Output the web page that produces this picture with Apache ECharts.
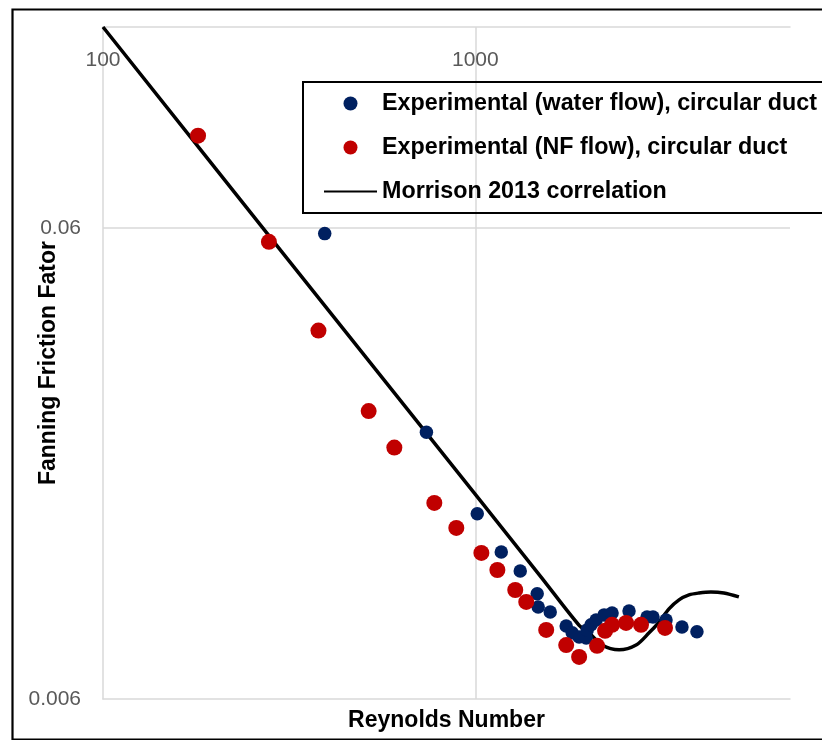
<!DOCTYPE html>
<html>
<head>
<meta charset="utf-8">
<script src="https://cdn.jsdelivr.net/npm/echarts@6/dist/echarts.min.js"></script>
<style>
html,body{margin:0;padding:0;background:#ffffff;}
#c{width:822px;height:740px;}
</style>
</head>
<body>
<div id="c"></div>
<script>
// ---- data ----
const waterName = 'Experimental (water flow), circular duct';
const nfName = 'Experimental (NF flow), circular duct';
const corrName = 'Morrison 2013 correlation';

const waterRe = [394, 739, 1012, 1174, 1320, 1466, 1475, 1589, 1754, 1820, 1900, 1985, 1997, 2046, 2110, 2218, 2329, 2587, 2892, 3000, 3252, 3589, 3937];
const waterF  = [0.0583, 0.0221, 0.01483, 0.01231, 0.01121, 0.01003, 0.00941, 0.00918, 0.00857, 0.00829, 0.00812, 0.00808, 0.00841, 0.00862, 0.00883, 0.00905, 0.00913, 0.00922, 0.00896, 0.00896, 0.00883, 0.00853, 0.00833];

const nfRe = [180, 279, 379, 517, 606, 776, 889, 1038, 1146, 1280, 1370, 1550, 1754, 1900, 2123, 2231, 2329, 2540, 2786, 3232];
const nfF  = [0.0941, 0.0560, 0.0363, 0.0245, 0.0205, 0.01564, 0.01384, 0.01225, 0.01127, 0.01022, 0.00964, 0.00841, 0.00781, 0.00737, 0.00778, 0.00837, 0.00862, 0.00870, 0.00862, 0.00849];

const corrRe = [100, 300, 1000, 1500, 1900, 2021, 2190, 2433, 2702, 2928, 3114, 3312, 3524, 3748, 3986, 4292, 4650, 5103];
const corrF  = [0.160, 0.0537, 0.0163, 0.0109, 0.0086, 0.00829, 0.00781, 0.00763, 0.00781, 0.00829, 0.00874, 0.00932, 0.00974, 0.00998, 0.01007, 0.01012, 0.01007, 0.00988];

const xTickLabels = [100, 1000];
const yTickLabels = [0.006, 0.06];
const xMin = 100, xMax = 7000;
const yMin = 0.006, yMax = 0.16;

// ---- chart ----
const pairs = (xs, ys) => xs.map((x, i) => [x, ys[i]]);
const gridColor = '#D9D9D9';
const labelColor = '#595959';
const font = 'Liberation Sans';

const chart = echarts.init(document.getElementById('c'), null, {renderer: 'canvas'});
chart.setOption({
  animation: false,
  backgroundColor: '#ffffff',
  graphic: [{
    type: 'rect', left: 10, top: 7, silent: true, z: -10,
    shape: {width: 900, height: 730},
    style: {fill: 'none', stroke: '#000000', lineWidth: 2.2}
  }],
  grid: {left: 103, top: 27, right: 32, bottom: 41, containLabel: false, outerBoundsMode: 'none'},
  legend: {
    orient: 'vertical', left: 303, top: 82,
    padding: [10, 20, 10, 20], itemGap: 21,
    itemWidth: 53, itemHeight: 14,
    borderColor: '#000000', borderWidth: 2,
    selectedMode: false,
    textStyle: {fontFamily: font, fontWeight: 'bold', fontSize: 23.3, color: '#000000'},
    data: [
      {name: waterName, icon: 'circle'},
      {name: nfName, icon: 'circle'},
      {name: corrName, itemStyle: {opacity: 0}}
    ]
  },
  xAxis: [{
    type: 'log', min: xMin, max: xMax, position: 'top',
    axisLine: {show: true, lineStyle: {color: gridColor, width: 1.5}},
    axisTick: {show: false},
    axisLabel: {
      inside: true, margin: 23, color: labelColor, fontSize: 21, fontFamily: font,
      formatter: v => xTickLabels.indexOf(Math.round(v)) >= 0 ? String(Math.round(v)) : ''
    },
    splitLine: {show: true, showMinLine: false, showMaxLine: false, lineStyle: {color: gridColor, width: 1.5}}
  }, {
    type: 'log', min: xMin, max: xMax, position: 'bottom',
    axisLine: {show: true, lineStyle: {color: gridColor, width: 1.5}},
    axisTick: {show: false}, axisLabel: {show: false}, splitLine: {show: false},
    name: 'Reynolds Number', nameLocation: 'middle', nameGap: 10, nameMoveOverlap: false,
    nameTextStyle: {fontFamily: font, fontWeight: 'bold', fontSize: 23, color: '#000000'}
  }],
  yAxis: [{
    type: 'log', min: yMin, max: yMax,
    axisLine: {show: true, lineStyle: {color: gridColor, width: 1.5}},
    axisTick: {show: false},
    axisLabel: {
      show: true, margin: 22, color: labelColor, fontSize: 21, fontFamily: font,
      formatter: (v, idx) => idx === 0 ? String(yTickLabels[0]) : ''
    },
    splitLine: {show: false},
    name: 'Fanning Friction Fator', nameLocation: 'middle', nameGap: 43, nameMoveOverlap: false,
    nameTextStyle: {fontFamily: font, fontWeight: 'bold', fontSize: 23, color: '#000000'}
  }],
  series: [{
    name: corrName, type: 'line', xAxisIndex: 0, yAxisIndex: 0,
    data: pairs(corrRe, corrF), symbol: 'none', smooth: 0.3,
    lineStyle: {color: '#000000', width: 3.5}, itemStyle: {color: '#000000'},
    emphasis: {disabled: true}, z: 2,
    markLine: {
      silent: true, symbol: 'none', z: 1, animation: false,
      lineStyle: {color: gridColor, width: 1.5, type: 'solid'},
      emphasis: {disabled: true},
      label: {
        show: true, position: 'start', distance: 22, color: labelColor, fontSize: 21, fontFamily: font,
        formatter: () => String(yTickLabels[1])
      },
      data: [{yAxis: yTickLabels[1]}]
    }
  }, {
    name: waterName, type: 'scatter', xAxisIndex: 0, yAxisIndex: 0,
    data: pairs(waterRe, waterF), symbol: 'circle', symbolSize: 13.5,
    itemStyle: {color: '#002060', opacity: 1}, emphasis: {disabled: true}, z: 3
  }, {
    name: nfName, type: 'scatter', xAxisIndex: 0, yAxisIndex: 0,
    data: pairs(nfRe, nfF), symbol: 'circle', symbolSize: 16,
    itemStyle: {color: '#C00000', opacity: 1}, emphasis: {disabled: true}, z: 4
  }]
});
</script>
</body>
</html>
